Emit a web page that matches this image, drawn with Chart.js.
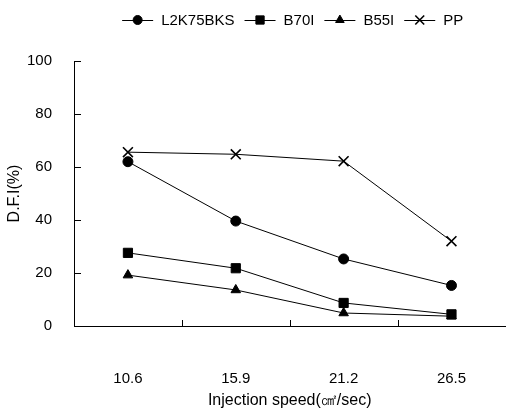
<!DOCTYPE html>
<html lang="en">
<head>
  <meta charset="UTF-8">
  <title>D.F.I vs injection speed</title>
  <script src="https://cdn.jsdelivr.net/npm/chart.js"></script>
  <style>
    html, body { margin: 0; padding: 0; background: #fff; }
    #wrap { width: 514px; height: 414px; }
  </style>
</head>
<body>
  <div id="wrap">
    <canvas id="graf" width="514" height="414"></canvas>
  </div>

  <script>
    /* --- datos --- */
    const speeds   = ['10.6', '15.9', '21.2', '26.5'];
    const l2k75bks = [62, 39.6, 25.3, 15.3];
    const b70i     = [27.6, 21.8, 8.7, 4.4];
    const b55i     = [19.2, 13.6, 4.9, 3.7];
    const pp       = [65.6, 64.8, 62.2, 32];
    const yTicks   = [0, 20, 40, 60, 80, 100];

    const FONT = '"Liberation Sans", Arial, sans-serif';

    const series = [
      { label: 'L2K75BKS', data: l2k75bks, style: 'circle',   radius: 5,   bw: 1 },
      { label: 'B70I',     data: b70i,     style: 'rect',     radius: 6.5, bw: 1 },
      { label: 'B55I',     data: b55i,     style: 'triangle', radius: 5.5, bw: 1 },
      { label: 'PP',       data: pp,       style: 'crossRot', radius: 7,   bw: 1.6 },
    ];

    /* leyenda con línea + marcador, centrada sobre el área del gráfico */
    const lineLegend = {
      id: 'lineLegend',
      afterDraw(chart) {
        const ctx = chart.ctx;
        const area = chart.chartArea;
        ctx.save();
        ctx.font = '15px ' + FONT;
        const segLen = 31, gapTxt = 8, gapItem = 10;
        const widths = series.map(s => segLen + gapTxt + ctx.measureText(s.label).width);
        const total = widths.reduce((a, b) => a + b, 0) + gapItem * (series.length - 1);
        let x = (area.left + area.right) / 2 + 3 - total / 2;
        const y = 20;
        series.forEach((s, i) => {
          ctx.strokeStyle = '#000';
          ctx.fillStyle = '#000';
          ctx.lineWidth = 1;
          ctx.beginPath();
          ctx.moveTo(x, y + 0.5);
          ctx.lineTo(x + segLen, y + 0.5);
          ctx.stroke();
          ctx.lineWidth = s.bw;
          Chart.helpers.drawPoint(ctx, { pointStyle: s.style, radius: s.radius * 0.9, rotation: 0, borderWidth: s.bw },
                                  x + segLen / 2, y);
          ctx.fillStyle = '#000';
          ctx.textBaseline = 'middle';
          ctx.textAlign = 'left';
          ctx.fillText(s.label, x + segLen + gapTxt, y + 1);
          x += widths[i] + gapItem;
        });
        ctx.restore();
      }
    };

    /* marcas cortas hacia dentro en los ejes */
    const innerTicks = {
      id: 'innerTicks',
      afterDatasetsDraw(chart) {
        const ctx = chart.ctx;
        const xs = chart.scales.x, ys = chart.scales.y;
        ctx.save();
        ctx.strokeStyle = '#000';
        ctx.lineWidth = 1;
        ctx.beginPath();
        yTicks.forEach(v => {
          const py = Math.round(ys.getPixelForValue(v)) + 0.5;
          ctx.moveTo(xs.left, py);
          ctx.lineTo(xs.left + 7, py);
        });
        const half = (xs.getPixelForValue(1) - xs.getPixelForValue(0)) / 2;
        for (let i = 0; i < speeds.length - 1; i++) {
          const px = Math.round(xs.getPixelForValue(i) + half) + 0.5;
          ctx.moveTo(px, ys.bottom);
          ctx.lineTo(px, ys.bottom - 6);
        }
        ctx.stroke();
        ctx.restore();
      }
    };

    new Chart(document.getElementById('graf'), {
      type: 'line',
      data: {
        labels: speeds,
        datasets: series.map(s => ({
          label: s.label,
          data: s.data,
          borderColor: '#000',
          backgroundColor: '#000',
          borderWidth: 1,
          tension: 0,
          pointStyle: s.style,
          pointRadius: s.radius,
          pointHoverRadius: s.radius,
          pointBorderWidth: s.bw,
          pointBorderColor: '#000',
          pointBackgroundColor: '#000',
        }))
      },
      options: {
        responsive: false,
        animation: false,
        layout: { padding: { top: 61, right: 0, bottom: 0, left: 0 } },
        plugins: {
          legend: { display: false },
          tooltip: { enabled: false }
        },
        scales: {
          x: {
            type: 'category',
            offset: true,
            grid: { display: false },
            border: { display: true, color: '#000', width: 1 },
            ticks: { color: '#000', font: { family: FONT, size: 15 }, padding: 36 },
            title: {
              display: true,
              text: 'Injection speed(㎠/sec)',
              color: '#000',
              font: { family: FONT, size: 16 },
              padding: { top: 0, bottom: 4 }
            },
            afterFit(scale) { scale.height = 88; }
          },
          y: {
            min: 0,
            max: 100,
            grid: { display: false },
            border: { display: true, color: '#000', width: 1 },
            afterBuildTicks(scale) { scale.ticks = yTicks.map(v => ({ value: v })); },
            ticks: { color: '#000', font: { family: FONT, size: 15 }, padding: 14 },
            title: {
              display: true,
              text: 'D.F.I(%)',
              color: '#000',
              font: { family: FONT, size: 16 },
              padding: { top: 5, bottom: 4 }
            },
            afterFit(scale) { scale.width = 74; }
          }
        }
      },
      plugins: [lineLegend, innerTicks]
    });
  </script>
</body>
</html>
